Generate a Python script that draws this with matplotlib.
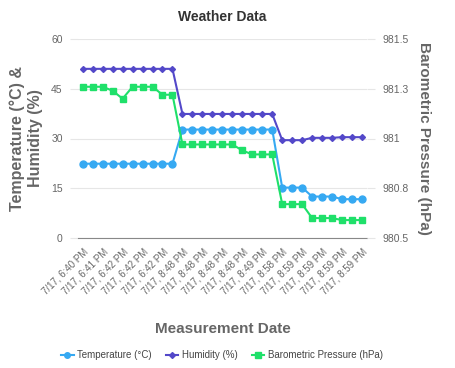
import matplotlib
matplotlib.use("Agg")
import matplotlib.pyplot as plt
from matplotlib.lines import Line2D

plt.rcParams["font.family"] = ["Liberation Sans", "DejaVu Sans"]

labels = ["7/17, 6:40 PM", "7/17, 6:40 PM", "7/17, 6:41 PM", "7/17, 6:41 PM",
          "7/17, 6:42 PM", "7/17, 6:42 PM", "7/17, 6:42 PM", "7/17, 6:42 PM",
          "7/17, 6:42 PM", "7/17, 6:42 PM", "7/17, 8:48 PM", "7/17, 8:48 PM",
          "7/17, 8:48 PM", "7/17, 8:48 PM", "7/17, 8:48 PM", "7/17, 8:48 PM",
          "7/17, 8:48 PM", "7/17, 8:49 PM", "7/17, 8:49 PM", "7/17, 8:49 PM",
          "7/17, 8:58 PM", "7/17, 8:59 PM", "7/17, 8:59 PM", "7/17, 8:59 PM",
          "7/17, 8:59 PM", "7/17, 8:59 PM", "7/17, 8:59 PM", "7/17, 8:59 PM",
          "7/17, 8:59 PM"]
temperature = [22.4]*10 + [32.7]*10 + [15.2]*3 + [12.5]*3 + [11.7]*3
humidity = [51.0]*10 + [37.4]*10 + [29.5]*3 + [30.2]*3 + [30.4]*3
pressure = [981.26, 981.26, 981.26, 981.24, 981.20, 981.26, 981.26, 981.26,
            981.22, 981.22, 980.97, 980.97, 980.97, 980.97, 980.97, 980.97,
            980.94, 980.92, 980.92, 980.92, 980.67, 980.67, 980.67, 980.60,
            980.60, 980.60, 980.59, 980.59, 980.59]
left_ticks = [0, 15, 30, 45, 60]
right_ticks = [980.5, 980.75, 981.0, 981.25, 981.5]
right_tick_labels = ["980.5", "980.8", "981", "981.3", "981.5"]

c_temp = "#36a9f2"
c_hum = "#5348c9"
c_pres = "#1fe06a"
grey = "#666666"

fig = plt.figure(figsize=(4.56, 3.68), dpi=100)
ax = fig.add_axes([78/456, 1-238/368, (367-78)/456, (238-39)/368])
ax2 = ax.twinx()

x = list(range(len(labels)))
ax.plot(x, temperature, color=c_temp, marker="o", markersize=5, lw=1.5, zorder=3)
ax.plot(x, humidity, color=c_hum, marker="D", markersize=3, lw=1.5, zorder=3)
ax2.plot(x, pressure, color=c_pres, marker="s", markersize=5, lw=1.5, zorder=3)

ax.set_xlim(-0.47, 28.5)
ax.set_ylim(0, 60)
ax2.set_ylim(980.5, 981.5)
ax.set_yticks(left_ticks)
ax.set_yticklabels([str(t) for t in left_ticks])
ax2.set_yticks(right_ticks)
ax2.set_yticklabels(right_tick_labels)

ax.set_xticks(x[::2])
ax.set_xticklabels(labels[::2], rotation=45, ha="right", rotation_mode="anchor",
                   fontsize=7, color=grey)
ax.tick_params(axis="x", length=0, pad=6)
ax.tick_params(axis="y", labelsize=7.5, labelcolor=grey, length=6, color="#e6e6e6", pad=5)
ax2.tick_params(axis="y", labelsize=7.5, labelcolor=grey, length=6, color="#e6e6e6", pad=5)

ax.grid(axis="y", color="#e6e6e6", lw=0.8)
ax.set_axisbelow(True)
for a in (ax, ax2):
    for s in ("top", "left", "right"):
        a.spines[s].set_visible(False)
    a.spines["bottom"].set_color("#888888")
ax2.spines["bottom"].set_visible(False)

ax.set_title("Weather Data", fontsize=10, fontweight="bold", color="#333333", pad=13)
ax.set_xlabel("Measurement Date", fontsize=11, fontweight="bold", color=grey, labelpad=19)
ax.set_ylabel("Temperature (°C) &\nHumidity (%)", fontsize=11.5, fontweight="bold",
              color=grey, labelpad=6, linespacing=1.25)
ax2.set_ylabel("Barometric Pressure (hPa)", fontsize=11, fontweight="bold",
               color=grey, rotation=270, labelpad=16)

handles = [Line2D([], [], color=c_temp, marker="o", markersize=4, lw=1.5),
           Line2D([], [], color=c_hum, marker="D", markersize=3, lw=1.5),
           Line2D([], [], color=c_pres, marker="s", markersize=4, lw=1.5)]
fig.legend(handles, ["Temperature (°C)", "Humidity (%)", "Barometric Pressure (hPa)"],
           loc="center", bbox_to_anchor=(222/456, 1-355/368), ncol=3, frameon=False,
           fontsize=7, labelcolor="#444444", handlelength=1.3, handletextpad=0.4,
           columnspacing=1.4)

fig.savefig("out.png", dpi=100)
